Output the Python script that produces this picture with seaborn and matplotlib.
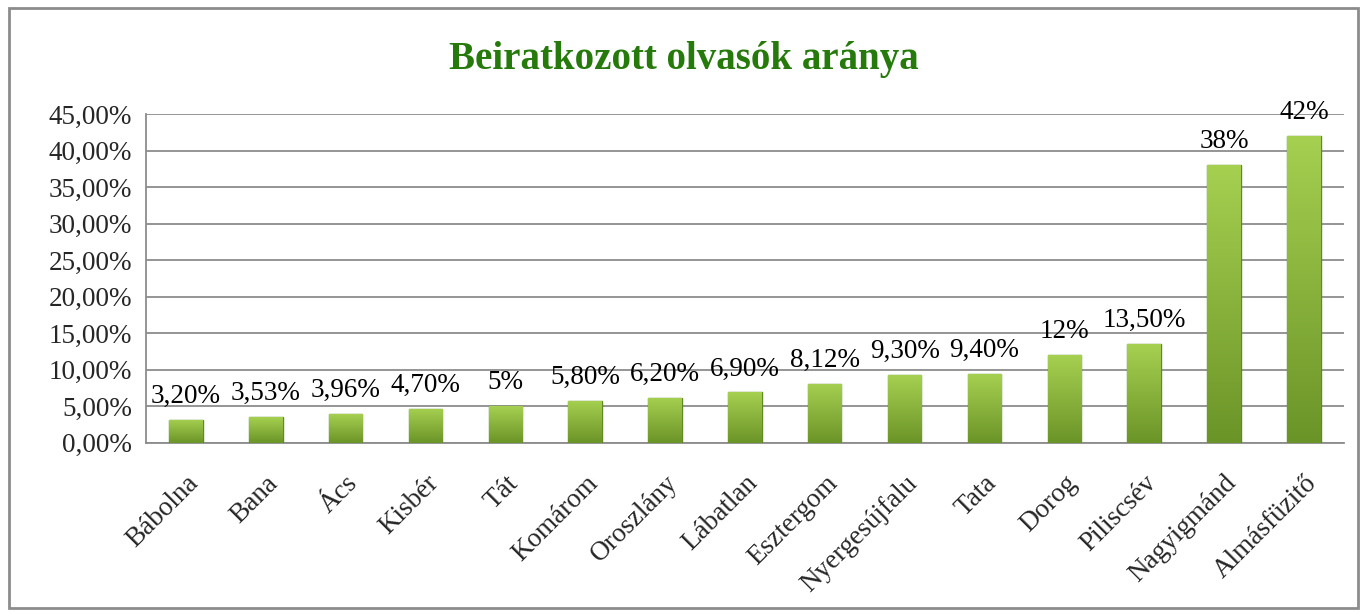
import matplotlib.pyplot as plt
import matplotlib.patches as mpatches
import seaborn as sns
import numpy as np
import pandas as pd

towns = ['Bábolna', 'Bana', 'Ács', 'Kisbér', 'Tát', 'Komárom', 'Oroszlány', 'Lábatlan',
         'Esztergom', 'Nyergesújfalu', 'Tata', 'Dorog', 'Piliscsév', 'Nagyigmánd', 'Almásfüzitő']
ratio = [3.20, 3.53, 3.96, 4.70, 5.0, 5.80, 6.20, 6.90, 8.12, 9.30, 9.40, 12.0, 13.50, 38.0, 42.0]
labels = ['3,20%', '3,53%', '3,96%', '4,70%', '5%', '5,80%', '6,20%', '6,90%', '8,12%',
          '9,30%', '9,40%', '12%', '13,50%', '38%', '42%']

df = pd.DataFrame({'town': towns, 'ratio': ratio})

sns.set_style('white')
plt.rcParams['font.family'] = ['Liberation Serif', 'DejaVu Serif']
fs = 19.5

fig = plt.figure(figsize=(13.67, 6.16), dpi=100)
ax = fig.add_axes([0.1068, 0.281, 0.983 - 0.1068, 0.815 - 0.281])

sns.barplot(data=df, x='town', y='ratio', color='#8cb83e', width=0.42,
            edgecolor='#5f8a22', linewidth=1.0, ax=ax, zorder=3)

# light top / darker bottom shading on bars
grad = np.linspace(1, 0, 256).reshape(-1, 1)
cmap = plt.matplotlib.colors.LinearSegmentedColormap.from_list('g', ['#6b9428', '#a6d050'])
for bar in ax.patches:
    x0, y0 = bar.get_x(), bar.get_y()
    w, h = bar.get_width(), bar.get_height()
    im = ax.imshow(grad, extent=[x0, x0 + w, y0, y0 + h], aspect='auto', cmap=cmap,
                   zorder=3.5)
    im.set_clip_path(bar)

for i, (v, t) in enumerate(zip(ratio, labels)):
    ax.text(i, v + 1.5, t, ha='center', va='bottom', fontsize=fs, color='black', zorder=5)

ax.set_xlim(-0.5, len(towns) - 0.5)
ax.set_ylim(0, 45)
ax.set_yticks(np.arange(0, 46, 5))
ax.set_yticklabels([f'{v:.2f}%'.replace('.', ',') for v in np.arange(0, 46, 5)], fontsize=fs)
ax.yaxis.grid(True, color='#8c8c8c', linewidth=1.3, zorder=0)
ax.set_axisbelow(True)

ax.set_xticks(range(len(towns)))
ax.set_xticklabels(towns, rotation=45, ha='right', rotation_mode='anchor', fontsize=fs)
ax.set_xticks(np.arange(-0.5, len(towns), 1), minor=True)
ax.tick_params(axis='x', which='major', length=0, pad=20)
ax.tick_params(axis='x', which='minor', length=7, color='#8c8c8c', width=1.3, direction='out')
ax.tick_params(axis='y', length=7, color='#8c8c8c', width=1.3, direction='out', pad=3)
ax.set_xlabel('')
ax.set_ylabel('')

for s in ['top', 'right']:
    ax.spines[s].set_visible(False)
for s in ['left', 'bottom']:
    ax.spines[s].set_color('#8c8c8c')
    ax.spines[s].set_linewidth(1.3)

fig.text(0.5, 0.903, 'Beiratkozott olvasók aránya', ha='center', va='center',
         fontsize=28, fontweight='bold', color='#267a0c')

fig.patches.append(mpatches.Rectangle((0.0066, 0.013), 0.987, 0.974, transform=fig.transFigure,
                                      fill=False, edgecolor='#8c8c8c', linewidth=2))

fig.savefig('out.png', dpi=100)
